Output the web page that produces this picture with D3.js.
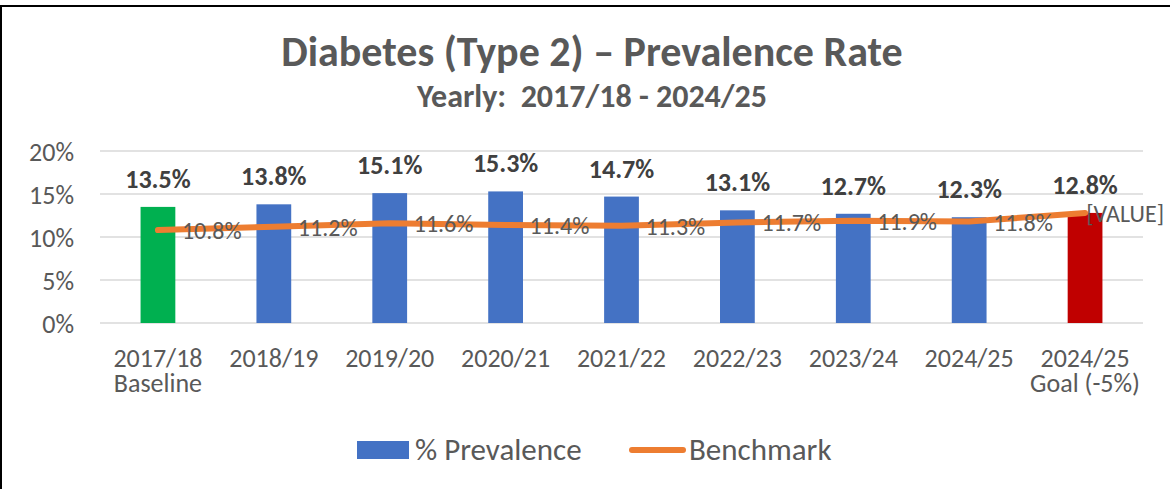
<!DOCTYPE html>
<html>
<head>
<meta charset="utf-8">
<script src="https://cdn.jsdelivr.net/npm/d3@7"></script>
<style>
  html, body { margin: 0; padding: 0; background: #fff; }
  svg text { font-family: "Carlito", "Liberation Sans", Arial, sans-serif; }
</style>
</head>
<body>
<div id="chart"></div>
<script>
const categories = ["2017/18|Baseline", "2018/19", "2019/20", "2020/21", "2021/22",
                    "2022/23", "2023/24", "2024/25", "2024/25|Goal (-5%)"];
const prevalence = [13.5, 13.8, 15.1, 15.3, 14.7, 13.1, 12.7, 12.3, 12.8];
const benchmark = [10.8, 11.2, 11.6, 11.4, 11.3, 11.7, 11.9, 11.8, 12.8];
const benchmarkLabels = ["10.8%", "11.2%", "11.6%", "11.4%", "11.3%", "11.7%", "11.9%", "11.8%", "[VALUE]"];
const barColors = ["#00B050", "#4472C4", "#4472C4", "#4472C4", "#4472C4",
                   "#4472C4", "#4472C4", "#4472C4", "#C00000"];
const yTicks = [0, 5, 10, 15, 20];

const W = 1170, H = 489;
const svg = d3.select('#chart').append('svg')
  .attr('width', W)
  .attr('height', H);

// chart frame
svg.append('rect')
  .attr('x', 1).attr('y', 6)
  .attr('width', W + 10).attr('height', H + 10)
  .attr('fill', '#fff')
  .attr('stroke', '#000')
  .attr('stroke-width', 2);

// titles
svg.append('text')
  .attr('x', 592).attr('y', 66)
  .attr('text-anchor', 'middle')
  .style('font-size', '42px').style('font-weight', 'bold')
  .attr('fill', '#595959')
  .text('Diabetes (Type 2) – Prevalence Rate');

svg.append('text')
  .attr('x', 592).attr('y', 107)
  .attr('text-anchor', 'middle')
  .style('font-size', '32px').style('font-weight', 'bold')
  .attr('fill', '#595959')
  .style('white-space', 'pre')
  .text('Yearly:  2017/18 - 2024/25');

const plotL = 100, plotR = 1143, plotT = 151, plotB = 323;

const x = d3.scaleBand().domain(categories).range([plotL, plotR]).paddingInner(0.7).paddingOuter(0.35);
const xc = d => x(d) + x.bandwidth() / 2;
const y = d3.scaleLinear().domain([0, 20]).range([plotB, plotT]);

// gridlines
svg.append('g')
  .selectAll('line')
  .data(yTicks)
  .enter().append('line')
    .attr('x1', plotL).attr('x2', plotR)
    .attr('y1', d => y(d)).attr('y2', d => y(d))
    .attr('stroke', '#d9d9d9')
    .attr('stroke-width', 1.5);

// y axis labels
const yAxis = svg.append('g')
  .attr('transform', `translate(${plotL - 26},0)`)
  .call(d3.axisLeft(y).tickValues(yTicks).tickFormat(d => d + '%').tickSize(0).tickPadding(0));
yAxis.select('.domain').remove();
yAxis.selectAll('text')
  .style('font-size', '26px')
  .attr('fill', '#595959')
  .attr('dy', '0.36em');

// bars
svg.append('g')
  .selectAll('rect')
  .data(categories)
  .enter().append('rect')
    .attr('x', d => x(d))
    .attr('y', (d, i) => y(prevalence[i]))
    .attr('width', x.bandwidth())
    .attr('height', (d, i) => y(0) - y(prevalence[i]))
    .attr('fill', (d, i) => barColors[i]);

// bar labels
svg.append('g')
  .selectAll('text')
  .data(categories)
  .enter().append('text')
    .attr('x', d => xc(d))
    .attr('y', (d, i) => y(prevalence[i]) - 19)
    .attr('text-anchor', 'middle')
    .style('font-size', '26px').style('font-weight', 'bold')
    .attr('fill', '#404040')
    .text((d, i) => prevalence[i].toFixed(1) + '%');

// benchmark line
const line = d3.line()
  .x((d, i) => xc(categories[i]))
  .y(d => y(d));

svg.append('path')
  .datum(benchmark)
  .attr('d', line)
  .attr('fill', 'none')
  .attr('stroke', '#ED7D31')
  .attr('stroke-width', 6)
  .attr('stroke-linecap', 'round')
  .attr('stroke-linejoin', 'round');

// benchmark labels (pushed back inside the frame when they would overflow)
svg.append('g')
  .selectAll('text')
  .data(categories)
  .enter().append('text')
    .attr('x', d => xc(d) + 24)
    .attr('y', (d, i) => y(benchmark[i]) + 9)
    .style('font-size', '24px')
    .attr('fill', '#595959')
    .text((d, i) => benchmarkLabels[i])
    .each(function() {
      const t = d3.select(this);
      const w = this.getComputedTextLength();
      const x0 = +t.attr('x');
      if (x0 + w > W - 6) t.attr('x', W - 6 - w);
    });

// x axis labels, two lines where the category has a note
const xLabels = svg.append('g')
  .selectAll('text')
  .data(categories)
  .enter().append('text')
    .attr('x', d => xc(d))
    .attr('y', 367)
    .attr('text-anchor', 'middle')
    .style('font-size', '26px')
    .attr('fill', '#595959');
xLabels.each(function(d) {
  const parts = d.split('|');
  const t = d3.select(this);
  parts.forEach((p, k) => {
    t.append('tspan')
      .attr('x', xc(d))
      .attr('dy', k === 0 ? 0 : 25)
      .text(p);
  });
});

// legend
const legend = svg.append('g');
legend.append('rect')
  .attr('x', 357).attr('y', 441)
  .attr('width', 52).attr('height', 18)
  .attr('fill', '#4472C4');
legend.append('text')
  .attr('x', 415).attr('y', 460)
  .style('font-size', '31px')
  .attr('fill', '#595959')
  .text('% Prevalence');
legend.append('line')
  .attr('x1', 632).attr('x2', 683)
  .attr('y1', 450).attr('y2', 450)
  .attr('stroke', '#ED7D31')
  .attr('stroke-width', 6)
  .attr('stroke-linecap', 'round');
legend.append('text')
  .attr('x', 689).attr('y', 460)
  .style('font-size', '31px')
  .attr('fill', '#595959')
  .text('Benchmark');
</script>
</body>
</html>
